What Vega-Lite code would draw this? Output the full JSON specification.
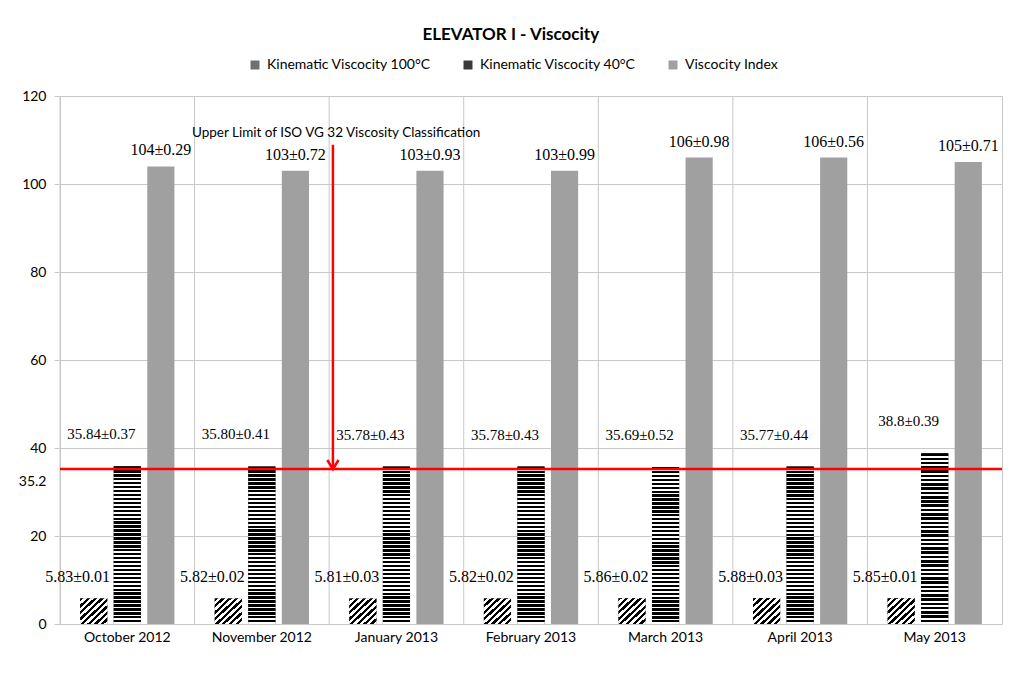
{
  "$schema": "https://vega.github.io/schema/vega-lite/v6.json",
  "width": 942,
  "height": 528,
  "autosize": {"type": "none"},
  "padding": {"left": 60, "top": 96, "right": 22, "bottom": 49},
  "background": "white",
  "title": {
    "text": "ELEVATOR I - Viscocity",
    "font": "Lato",
    "fontSize": 17,
    "fontWeight": "bold",
    "color": "#000000",
    "anchor": "middle",
    "frame": "bounds",
    "offset": 14
  },
  "datasets": {
    "visc": [
      {"month": "October 2012", "series": "Kinematic Viscocity 100°C", "value": 5.83, "label": "5.83±0.01"},
      {"month": "October 2012", "series": "Kinematic Viscocity 40°C", "value": 35.84, "label": "35.84±0.37"},
      {"month": "October 2012", "series": "Viscocity Index", "value": 104, "label": "104±0.29"},
      {"month": "November 2012", "series": "Kinematic Viscocity 100°C", "value": 5.82, "label": "5.82±0.02"},
      {"month": "November 2012", "series": "Kinematic Viscocity 40°C", "value": 35.80, "label": "35.80±0.41"},
      {"month": "November 2012", "series": "Viscocity Index", "value": 103, "label": "103±0.72"},
      {"month": "January 2013", "series": "Kinematic Viscocity 100°C", "value": 5.81, "label": "5.81±0.03"},
      {"month": "January 2013", "series": "Kinematic Viscocity 40°C", "value": 35.78, "label": "35.78±0.43"},
      {"month": "January 2013", "series": "Viscocity Index", "value": 103, "label": "103±0.93"},
      {"month": "February 2013", "series": "Kinematic Viscocity 100°C", "value": 5.82, "label": "5.82±0.02"},
      {"month": "February 2013", "series": "Kinematic Viscocity 40°C", "value": 35.78, "label": "35.78±0.43"},
      {"month": "February 2013", "series": "Viscocity Index", "value": 103, "label": "103±0.99"},
      {"month": "March 2013", "series": "Kinematic Viscocity 100°C", "value": 5.86, "label": "5.86±0.02"},
      {"month": "March 2013", "series": "Kinematic Viscocity 40°C", "value": 35.69, "label": "35.69±0.52"},
      {"month": "March 2013", "series": "Viscocity Index", "value": 106, "label": "106±0.98"},
      {"month": "April 2013", "series": "Kinematic Viscocity 100°C", "value": 5.88, "label": "5.88±0.03"},
      {"month": "April 2013", "series": "Kinematic Viscocity 40°C", "value": 35.77, "label": "35.77±0.44"},
      {"month": "April 2013", "series": "Viscocity Index", "value": 106, "label": "106±0.56"},
      {"month": "May 2013", "series": "Kinematic Viscocity 100°C", "value": 5.85, "label": "5.85±0.01"},
      {"month": "May 2013", "series": "Kinematic Viscocity 40°C", "value": 38.8, "label": "38.8±0.39"},
      {"month": "May 2013", "series": "Viscocity Index", "value": 105, "label": "105±0.71"}
    ]
  },
  "data": {"name": "visc"},
  "layer": [
    {
      "transform": [{"filter": "datum.series === 'Viscocity Index'"}],
      "mark": {"type": "rule", "color": "#c8c8c8", "strokeWidth": 1},
      "encoding": {
        "x": {"field": "month", "type": "nominal", "bandPosition": 0}
      }
    },
    {
      "mark": {"type": "bar", "strokeWidth": 0},
      "encoding": {
        "x": {
          "field": "month",
          "type": "nominal",
          "scale": {
            "domain": ["October 2012", "November 2012", "January 2013", "February 2013", "March 2013", "April 2013", "May 2013"],
            "paddingInner": 0,
            "paddingOuter": 0
          },
          "axis": {
            "title": null,
            "domain": false,
            "ticks": false,
            "grid": false,
            "bandPosition": 0.5,
            "labelFlush": false,
            "labelAlign": "center",
            "labelAngle": 0,
            "labelFont": "Lato",
            "labelFontSize": 14,
            "labelColor": "#000000",
            "labelPadding": 13
          }
        },
        "xOffset": {
          "field": "series",
          "type": "nominal",
          "scale": {
            "domain": ["Kinematic Viscocity 100°C", "Kinematic Viscocity 40°C", "Viscocity Index"],
            "paddingInner": 0.19,
            "paddingOuter": 0.6
          }
        },
        "y": {
          "field": "value",
          "type": "quantitative",
          "scale": {"domain": [0, 120], "nice": false},
          "axis": {
            "title": null,
            "values": [0, 20, 35.2, 40, 60, 80, 100, 120],
            "format": ".4~g",
            "domain": false,
            "grid": true,
            "gridColor": {"condition": {"test": "datum.value === 35.2", "value": "transparent"}, "value": "#c8c8c8"},
            "tickColor": {"condition": {"test": "datum.value === 35.2", "value": "transparent"}, "value": "#c8c8c8"},
            "tickSize": 6,
            "labelFont": "Lato",
            "labelFontSize": 14,
            "labelColor": "#000000",
            "labelPadding": 8,
            "labelOffset": {"condition": {"test": "datum.value === 35.2", "value": 12}, "value": 0}
          }
        },
        "color": {
          "field": "series",
          "type": "nominal",
          "scale": {
            "domain": ["Kinematic Viscocity 100°C", "Kinematic Viscocity 40°C", "Viscocity Index"],
            "range": ["#707070", "#3a3a3a", "#a0a0a0"]
          },
          "legend": {
            "title": null,
            "orient": "none",
            "legendX": 188,
            "legendY": -38,
            "direction": "horizontal",
            "symbolType": "square",
            "symbolSize": 81,
            "symbolStrokeWidth": 0,
            "labelFont": "Lato",
            "labelFontSize": 14,
            "labelColor": "#000000",
            "labelLimit": 400,
            "labelOffset": 5,
            "columnPadding": 30
          }
        }
      }
    },
    {
      "transform": [{"filter": "datum.series === 'Kinematic Viscocity 100°C'"}],
      "mark": {
        "type": "bar",
        "strokeWidth": 0,
        "fill": {
          "gradient": "linear", "x1": 0, "y1": 0, "x2": 1, "y2": 1,
          "stops": [
            {"offset": 0, "color": "#000"}, {"offset": 0.0625, "color": "#000"}, {"offset": 0.0625, "color": "#fff"}, {"offset": 0.125, "color": "#fff"},
            {"offset": 0.125, "color": "#000"}, {"offset": 0.1875, "color": "#000"}, {"offset": 0.1875, "color": "#fff"}, {"offset": 0.25, "color": "#fff"},
            {"offset": 0.25, "color": "#000"}, {"offset": 0.3125, "color": "#000"}, {"offset": 0.3125, "color": "#fff"}, {"offset": 0.375, "color": "#fff"},
            {"offset": 0.375, "color": "#000"}, {"offset": 0.4375, "color": "#000"}, {"offset": 0.4375, "color": "#fff"}, {"offset": 0.5, "color": "#fff"},
            {"offset": 0.5, "color": "#000"}, {"offset": 0.5625, "color": "#000"}, {"offset": 0.5625, "color": "#fff"}, {"offset": 0.625, "color": "#fff"},
            {"offset": 0.625, "color": "#000"}, {"offset": 0.6875, "color": "#000"}, {"offset": 0.6875, "color": "#fff"}, {"offset": 0.75, "color": "#fff"},
            {"offset": 0.75, "color": "#000"}, {"offset": 0.8125, "color": "#000"}, {"offset": 0.8125, "color": "#fff"}, {"offset": 0.875, "color": "#fff"},
            {"offset": 0.875, "color": "#000"}, {"offset": 0.9375, "color": "#000"}, {"offset": 0.9375, "color": "#fff"}, {"offset": 1, "color": "#fff"}
          ]
        }
      },
      "encoding": {
        "x": {"field": "month", "type": "nominal"},
        "xOffset": {"field": "series", "type": "nominal"},
        "y": {"field": "value", "type": "quantitative"}
      }
    },
    {
      "transform": [{"filter": "datum.series === 'Kinematic Viscocity 40°C'"}],
      "mark": {
        "type": "bar",
        "strokeWidth": 0,
        "fill": {
          "gradient": "linear", "x1": 0, "y1": 0, "x2": 0, "y2": 1,
          "stops": [
            {"offset": 0, "color": "#000"}, {"offset": 0.015, "color": "#000"}, {"offset": 0.015, "color": "#fff"}, {"offset": 0.025, "color": "#fff"},
            {"offset": 0.025, "color": "#000"}, {"offset": 0.04, "color": "#000"}, {"offset": 0.04, "color": "#fff"}, {"offset": 0.05, "color": "#fff"},
            {"offset": 0.05, "color": "#000"}, {"offset": 0.065, "color": "#000"}, {"offset": 0.065, "color": "#fff"}, {"offset": 0.075, "color": "#fff"},
            {"offset": 0.075, "color": "#000"}, {"offset": 0.09, "color": "#000"}, {"offset": 0.09, "color": "#fff"}, {"offset": 0.1, "color": "#fff"},
            {"offset": 0.1, "color": "#000"}, {"offset": 0.115, "color": "#000"}, {"offset": 0.115, "color": "#fff"}, {"offset": 0.125, "color": "#fff"},
            {"offset": 0.125, "color": "#000"}, {"offset": 0.14, "color": "#000"}, {"offset": 0.14, "color": "#fff"}, {"offset": 0.15, "color": "#fff"},
            {"offset": 0.15, "color": "#000"}, {"offset": 0.165, "color": "#000"}, {"offset": 0.165, "color": "#fff"}, {"offset": 0.175, "color": "#fff"},
            {"offset": 0.175, "color": "#000"}, {"offset": 0.19, "color": "#000"}, {"offset": 0.19, "color": "#fff"}, {"offset": 0.2, "color": "#fff"},
            {"offset": 0.2, "color": "#000"}, {"offset": 0.215, "color": "#000"}, {"offset": 0.215, "color": "#fff"}, {"offset": 0.225, "color": "#fff"},
            {"offset": 0.225, "color": "#000"}, {"offset": 0.24, "color": "#000"}, {"offset": 0.24, "color": "#fff"}, {"offset": 0.25, "color": "#fff"},
            {"offset": 0.25, "color": "#000"}, {"offset": 0.265, "color": "#000"}, {"offset": 0.265, "color": "#fff"}, {"offset": 0.275, "color": "#fff"},
            {"offset": 0.275, "color": "#000"}, {"offset": 0.29, "color": "#000"}, {"offset": 0.29, "color": "#fff"}, {"offset": 0.3, "color": "#fff"},
            {"offset": 0.3, "color": "#000"}, {"offset": 0.315, "color": "#000"}, {"offset": 0.315, "color": "#fff"}, {"offset": 0.325, "color": "#fff"},
            {"offset": 0.325, "color": "#000"}, {"offset": 0.34, "color": "#000"}, {"offset": 0.34, "color": "#fff"}, {"offset": 0.35, "color": "#fff"},
            {"offset": 0.35, "color": "#000"}, {"offset": 0.365, "color": "#000"}, {"offset": 0.365, "color": "#fff"}, {"offset": 0.375, "color": "#fff"},
            {"offset": 0.375, "color": "#000"}, {"offset": 0.39, "color": "#000"}, {"offset": 0.39, "color": "#fff"}, {"offset": 0.4, "color": "#fff"},
            {"offset": 0.4, "color": "#000"}, {"offset": 0.415, "color": "#000"}, {"offset": 0.415, "color": "#fff"}, {"offset": 0.425, "color": "#fff"},
            {"offset": 0.425, "color": "#000"}, {"offset": 0.44, "color": "#000"}, {"offset": 0.44, "color": "#fff"}, {"offset": 0.45, "color": "#fff"},
            {"offset": 0.45, "color": "#000"}, {"offset": 0.465, "color": "#000"}, {"offset": 0.465, "color": "#fff"}, {"offset": 0.475, "color": "#fff"},
            {"offset": 0.475, "color": "#000"}, {"offset": 0.49, "color": "#000"}, {"offset": 0.49, "color": "#fff"}, {"offset": 0.5, "color": "#fff"},
            {"offset": 0.5, "color": "#000"}, {"offset": 0.515, "color": "#000"}, {"offset": 0.515, "color": "#fff"}, {"offset": 0.525, "color": "#fff"},
            {"offset": 0.525, "color": "#000"}, {"offset": 0.54, "color": "#000"}, {"offset": 0.54, "color": "#fff"}, {"offset": 0.55, "color": "#fff"},
            {"offset": 0.55, "color": "#000"}, {"offset": 0.565, "color": "#000"}, {"offset": 0.565, "color": "#fff"}, {"offset": 0.575, "color": "#fff"},
            {"offset": 0.575, "color": "#000"}, {"offset": 0.59, "color": "#000"}, {"offset": 0.59, "color": "#fff"}, {"offset": 0.6, "color": "#fff"},
            {"offset": 0.6, "color": "#000"}, {"offset": 0.615, "color": "#000"}, {"offset": 0.615, "color": "#fff"}, {"offset": 0.625, "color": "#fff"},
            {"offset": 0.625, "color": "#000"}, {"offset": 0.64, "color": "#000"}, {"offset": 0.64, "color": "#fff"}, {"offset": 0.65, "color": "#fff"},
            {"offset": 0.65, "color": "#000"}, {"offset": 0.665, "color": "#000"}, {"offset": 0.665, "color": "#fff"}, {"offset": 0.675, "color": "#fff"},
            {"offset": 0.675, "color": "#000"}, {"offset": 0.69, "color": "#000"}, {"offset": 0.69, "color": "#fff"}, {"offset": 0.7, "color": "#fff"},
            {"offset": 0.7, "color": "#000"}, {"offset": 0.715, "color": "#000"}, {"offset": 0.715, "color": "#fff"}, {"offset": 0.725, "color": "#fff"},
            {"offset": 0.725, "color": "#000"}, {"offset": 0.74, "color": "#000"}, {"offset": 0.74, "color": "#fff"}, {"offset": 0.75, "color": "#fff"},
            {"offset": 0.75, "color": "#000"}, {"offset": 0.765, "color": "#000"}, {"offset": 0.765, "color": "#fff"}, {"offset": 0.775, "color": "#fff"},
            {"offset": 0.775, "color": "#000"}, {"offset": 0.79, "color": "#000"}, {"offset": 0.79, "color": "#fff"}, {"offset": 0.8, "color": "#fff"},
            {"offset": 0.8, "color": "#000"}, {"offset": 0.815, "color": "#000"}, {"offset": 0.815, "color": "#fff"}, {"offset": 0.825, "color": "#fff"},
            {"offset": 0.825, "color": "#000"}, {"offset": 0.84, "color": "#000"}, {"offset": 0.84, "color": "#fff"}, {"offset": 0.85, "color": "#fff"},
            {"offset": 0.85, "color": "#000"}, {"offset": 0.865, "color": "#000"}, {"offset": 0.865, "color": "#fff"}, {"offset": 0.875, "color": "#fff"},
            {"offset": 0.875, "color": "#000"}, {"offset": 0.89, "color": "#000"}, {"offset": 0.89, "color": "#fff"}, {"offset": 0.9, "color": "#fff"},
            {"offset": 0.9, "color": "#000"}, {"offset": 0.915, "color": "#000"}, {"offset": 0.915, "color": "#fff"}, {"offset": 0.925, "color": "#fff"},
            {"offset": 0.925, "color": "#000"}, {"offset": 0.94, "color": "#000"}, {"offset": 0.94, "color": "#fff"}, {"offset": 0.95, "color": "#fff"},
            {"offset": 0.95, "color": "#000"}, {"offset": 0.965, "color": "#000"}, {"offset": 0.965, "color": "#fff"}, {"offset": 0.975, "color": "#fff"},
            {"offset": 0.975, "color": "#000"}, {"offset": 0.99, "color": "#000"}, {"offset": 0.99, "color": "#fff"}, {"offset": 1, "color": "#fff"}
          ]
        }
      },
      "encoding": {
        "x": {"field": "month", "type": "nominal"},
        "xOffset": {"field": "series", "type": "nominal"},
        "y": {"field": "value", "type": "quantitative"}
      }
    },
    {
      "transform": [{"filter": "datum.series === 'Kinematic Viscocity 100°C'"}],
      "mark": {"type": "text", "font": "Liberation Serif", "fontSize": 16, "color": "#000000", "baseline": "middle", "dx": -16, "dy": -21},
      "encoding": {
        "x": {"field": "month", "type": "nominal"},
        "xOffset": {"field": "series", "type": "nominal"},
        "y": {"field": "value", "type": "quantitative"},
        "text": {"field": "label"}
      }
    },
    {
      "transform": [{"filter": "datum.series === 'Kinematic Viscocity 40°C'"}],
      "mark": {"type": "text", "font": "Liberation Serif", "fontSize": 15, "color": "#000000", "baseline": "middle", "dx": -26, "dy": -32},
      "encoding": {
        "x": {"field": "month", "type": "nominal"},
        "xOffset": {"field": "series", "type": "nominal"},
        "y": {"field": "value", "type": "quantitative"},
        "text": {"field": "label"}
      }
    },
    {
      "transform": [{"filter": "datum.series === 'Viscocity Index'"}],
      "mark": {"type": "text", "font": "Liberation Serif", "fontSize": 16, "color": "#000000", "baseline": "middle", "dx": 0, "dy": -16},
      "encoding": {
        "x": {"field": "month", "type": "nominal"},
        "xOffset": {"field": "series", "type": "nominal"},
        "y": {"field": "value", "type": "quantitative"},
        "text": {"field": "label"}
      }
    },
    {
      "data": {"values": [{"limit": 35.2}]},
      "mark": {"type": "rule", "color": "#ff0000", "strokeWidth": 2.5},
      "encoding": {
        "y": {"field": "limit", "type": "quantitative"}
      }
    },
    {
      "data": {"values": [{"month": "January 2013", "top": 108.9, "tip": 35.2}]},
      "mark": {"type": "rule", "color": "#ff0000", "strokeWidth": 2.5},
      "encoding": {
        "x": {"field": "month", "type": "nominal", "bandPosition": 0.028},
        "y": {"field": "top", "type": "quantitative"},
        "y2": {"field": "tip"}
      }
    },
    {
      "data": {"values": [{"month": "January 2013", "tip": 35.2}]},
      "mark": {"type": "point", "shape": "M-0.8,-1.3L0,0L0.8,-1.3", "filled": false, "stroke": "#ff0000", "strokeWidth": 2.5, "size": 196, "opacity": 1},
      "encoding": {
        "x": {"field": "month", "type": "nominal", "bandPosition": 0.028},
        "y": {"field": "tip", "type": "quantitative"}
      }
    },
    {
      "data": {"values": [{"month": "January 2013", "at": 111.6, "note": "Upper Limit of ISO VG 32 Viscosity Classification"}]},
      "mark": {"type": "text", "font": "Lato", "fontSize": 13.5, "color": "#000000", "baseline": "middle"},
      "encoding": {
        "x": {"field": "month", "type": "nominal", "bandPosition": 0.052},
        "y": {"field": "at", "type": "quantitative"},
        "text": {"field": "note"}
      }
    }
  ],
  "config": {
    "font": "Lato",
    "view": {"stroke": "#c8c8c8"}
  }
}
